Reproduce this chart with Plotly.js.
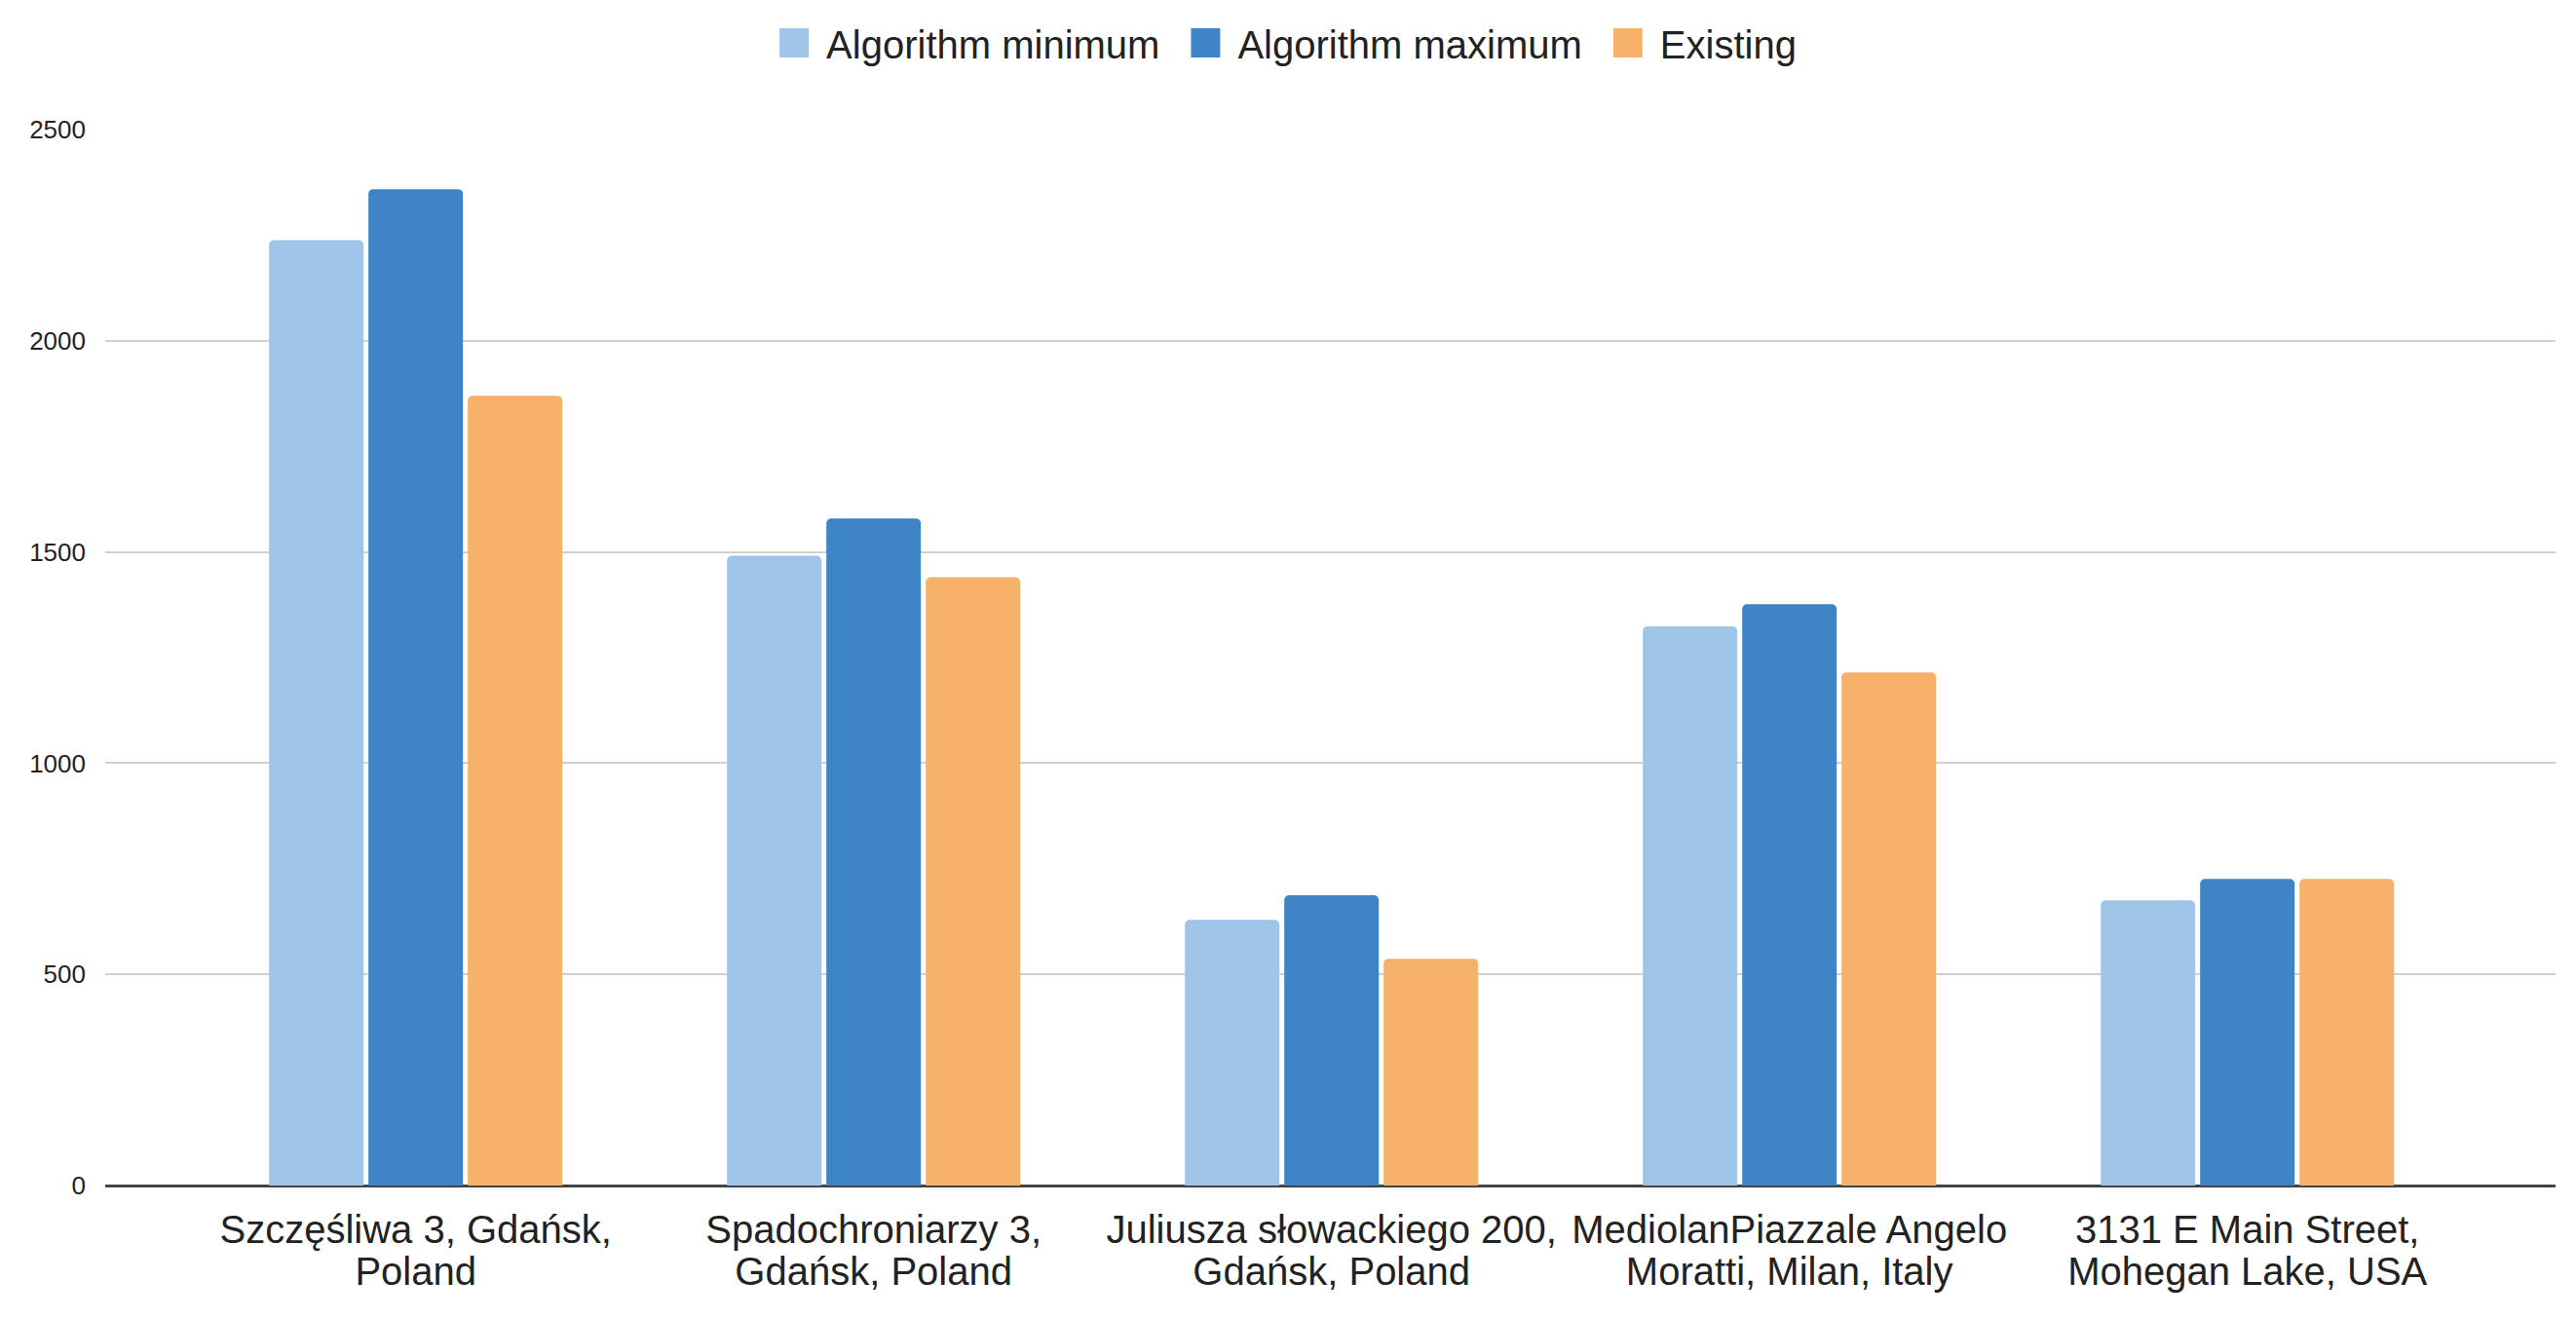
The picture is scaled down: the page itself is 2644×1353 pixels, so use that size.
<!DOCTYPE html>
<html>
<head>
<meta charset="utf-8">
<script src="https://cdn.plot.ly/plotly-3.0.1.min.js"></script>
<style>
html,body{margin:0;padding:0;background:#fff;}
#chart{width:2644px;height:1353px;}
</style>
</head>
<body>
<div id="chart"></div>
<script>
var categories = [
  "Szczęśliwa 3, Gdańsk,<br>Poland",
  "Spadochroniarzy 3,<br>Gdańsk, Poland",
  "Juliusza słowackiego 200,<br>Gdańsk, Poland",
  "MediolanPiazzale Angelo<br>Moratti, Milan, Italy",
  "3131 E Main Street,<br>Mohegan Lake, USA"
];
var seriesNames = ["Algorithm minimum", "Algorithm maximum", "Existing"];
var algorithmMin = [2238, 1491, 629, 1324, 675];
var algorithmMax = [2359, 1579, 687, 1376, 726];
var existing = [1870, 1440, 537, 1215, 726];
var seriesColors = ["#9fc5e8", "#3d85c6", "#f6b26b"];
var yTicks = [0, 500, 1000, 1500, 2000, 2500];

var values = [algorithmMin, algorithmMax, existing];
var traces = values.map(function (v, i) {
  return {
    type: "bar",
    name: seriesNames[i],
    x: categories,
    y: v,
    marker: {color: seriesColors[i], line: {width: 0}},
    hoverinfo: "y"
  };
});

var layout = {
  width: 2644,
  height: 1353,
  margin: {l: 108, r: 21, t: 133, b: 136},
  paper_bgcolor: "#ffffff",
  plot_bgcolor: "#ffffff",
  font: {family: "Liberation Sans, Arial, sans-serif", color: "#222222"},
  barmode: "group",
  bargap: 0.349,
  bargroupgap: 0.049,
  barcornerradius: 5,
  showlegend: true,
  legend: {
    orientation: "h",
    x: 0.5, xanchor: "center",
    y: 1, yref: "container", yanchor: "top",
    font: {size: 40, color: "#222222"},
    itemwidth: 40,
    traceorder: "normal"
  },
  xaxis: {
    type: "category",
    range: [-0.678, 4.673],
    showgrid: false,
    showline: false,
    zeroline: false,
    ticks: "",
    ticklabelstandoff: 18,
    tickfont: {size: 40, color: "#222222"},
    fixedrange: true
  },
  yaxis: {
    range: [0, 2500],
    tickvals: yTicks,
    ticktext: yTicks.map(String),
    showgrid: true,
    gridcolor: "#d0d0d0",
    gridwidth: 2,
    zeroline: true,
    zerolinecolor: "#444444",
    zerolinewidth: 3,
    showline: false,
    ticks: "",
    ticklabelstandoff: 19,
    tickfont: {size: 26, color: "#222222"},
    fixedrange: true
  }
};

function parseTranslate(tr) {
  var m = /translate\(\s*([-\d.e]+)[ ,]+([-\d.e]+)\s*\)/.exec(tr || "");
  return m ? [parseFloat(m[1]), parseFloat(m[2])] : [0, 0];
}

function tidyLegend() {
  var gd = document.getElementById("chart");
  var sb = gd.querySelector(".legend .scrollbox");
  if (sb) sb.removeAttribute("clip-path");
  var items = Array.prototype.slice.call(gd.querySelectorAll(".legend .traces"));
  var sw = 30, gapText = 18, gapItem = 32, centerX = 1322, centerY = 44;
  var widths = items.map(function (t) {
    return t.querySelector("text.legendtext").getBBox().width;
  });
  var total = widths.reduce(function (a, b) { return a + b; }, 0) +
    items.length * (sw + gapText) + (items.length - 1) * gapItem;
  var x = centerX - total / 2;
  items.forEach(function (t, i) {
    var path = t.querySelector(".legendpoints path");
    path.setAttribute("d", "M15,15H-15V-15H15Z");
    var r = path.getBoundingClientRect();
    var dx = x - r.left;
    var dy = centerY - (r.top + r.height / 2);
    var p = parseTranslate(t.getAttribute("transform"));
    t.setAttribute("transform", "translate(" + (p[0] + dx) + "," + (p[1] + dy) + ")");
    var txt = t.querySelector("text.legendtext");
    var tr = txt.getBoundingClientRect();
    var tdx = (x + sw + gapText) - tr.left;
    txt.setAttribute("x", parseFloat(txt.getAttribute("x") || 0) + tdx);
    x += sw + gapText + widths[i] + gapItem;
  });
}

function tidyTickLines() {
  var gd = document.getElementById("chart");
  var k = 1.08 / 1.3;
  gd.querySelectorAll(".xtick text tspan.line").forEach(function (s) {
    var dy = s.getAttribute("dy");
    if (dy && /em$/.test(dy)) {
      s.setAttribute("dy", (parseFloat(dy) * k) + "em");
    }
  });
}

Plotly.newPlot("chart", traces, layout, {displayModeBar: false, staticPlot: true}).then(function () {
  tidyLegend();
  tidyTickLines();
});
</script>
</body>
</html>
